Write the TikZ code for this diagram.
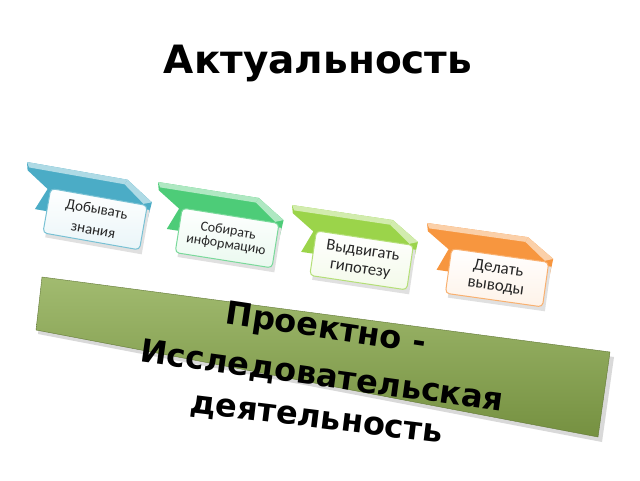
\documentclass[tikz,border=0pt]{standalone}
\usepackage{fontspec}
\setmainfont{DejaVu Sans}
\newfontfamily\cardfont{Carlito}
\definecolor{ribblue}{HTML}{4BACC6}
\definecolor{ribgreen}{HTML}{4DCC78}
\definecolor{riblime}{HTML}{9BD44A}
\definecolor{riborange}{HTML}{F7963F}
\definecolor{banner}{HTML}{8AAA4C}

\begin{document}
\begin{tikzpicture}[x=1pt,y=-1pt,
  card/.style={draw=#1!75!white,line width=1pt,rounded corners=4pt,
    top color=white,bottom color=#1!12!white},
  cardtext/.style={align=center,text=black!85},
  bantext/.style={font=\fontsize{32}{34}\selectfont\bfseries}]
\useasboundingbox[fill=white] (0,0) rectangle (640,480);
\node (title) at (318,63) {\fontsize{39}{41}\selectfont\bfseries Актуальность};
% ribbons with cards
\foreach \x/\y/\a/\s/\c/\t [count=\i] in {
    27/162/-10/15/ribblue/{Добывать\\[6pt]знания},
    158/182/-9/14/ribgreen/{Собирать\\информацию},
    292/205/-8.5/16.5/riblime/{Выдвигать\\[2pt]гипотезу},
    427/223/-8/17/riborange/{Делать\\[1pt]выводы}}{
  \begin{scope}[shift={(\x,\y)},rotate=\a]
    \fill[\c] (0,0) -- (102,0) -- (130,18) -- (128,45) -- (16,45) -- (25,23) -- (2,8) -- cycle;
    \fill[\c!45!white] (0,0) -- (102,0) -- (100,5) -- (3,5) -- cycle;
    \fill[\c!45!white] (102,0) -- (130,18) -- (122,21) -- (100,5) -- cycle;
    \fill[black!12] (31,26) rectangle (129,71);
    \draw[card=\c] (28,22) rectangle (126,67);
    \node[cardtext,rotate=\a,font=\cardfont\fontsize{\s}{\s}\selectfont] (card\i) at (77,44.5) {\t};
  \end{scope}
}
% banner
\fill[black!15] (44,281) -- (614,357) -- (602,442) -- (38,334) -- cycle;
\shade[top color=banner!80!white,bottom color=banner!85!black,draw=banner!70!black]
  (42,277) -- (610,352) -- (598,437) -- (36,330) -- cycle;
\node[bantext,rotate=-8.5] (line1) at (326,330) {Проектно -};
\node[bantext,rotate=-7.8] (line2) at (322,377) {Исследовательская};
\node[bantext,rotate=-7] (line3) at (316,421) {деятельность};
\end{tikzpicture}
\end{document}
